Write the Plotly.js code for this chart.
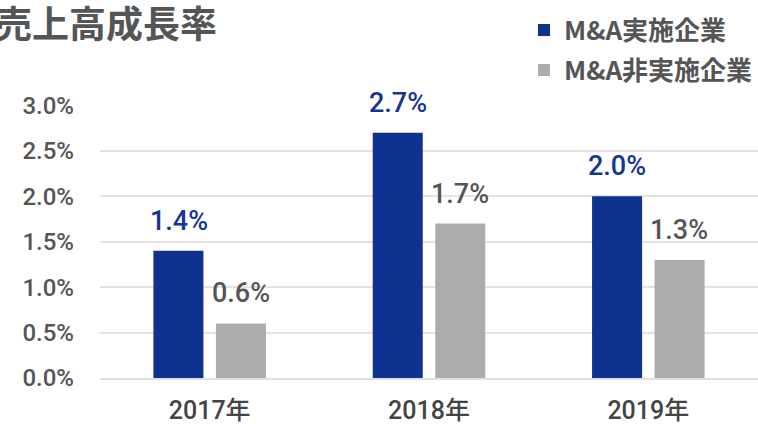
<!DOCTYPE html>
<html>
<head>
<meta charset="utf-8">
<script src="https://cdn.plot.ly/plotly-3.0.1.min.js"></script>
<style>
  html, body { margin: 0; padding: 0; background: #fff; }
  #chart { width: 758px; height: 424px; }
</style>
</head>
<body>
<div id="chart"></div>
<script>
// 売上高成長率 - M&A実施企業 vs 非実施企業
const years = ["2017年", "2018年", "2019年"];
const maDone = [1.4, 2.7, 2.0];
const maNotDone = [0.6, 1.7, 1.3];
const seriesNames = ["M&A実施企業", "M&A非実施企業"];
const yTicks = [0, 0.5, 1.0, 1.5, 2.0, 2.5, 3.0];

const BLUE = "#0f3190";
const GRAY = "#acacac";
const TEXT = "#555555";
const FONT = "Roboto, 'Noto Sans CJK JP', sans-serif";

const traces = [
  {
    x: years, y: maDone, type: "bar", name: seriesNames[0],
    marker: { color: BLUE }, legendgroup: "a", hoverinfo: "skip",
  },
  {
    x: years, y: maNotDone, type: "bar", name: seriesNames[1],
    marker: { color: GRAY }, legendgroup: "b", hoverinfo: "skip",
  },
];

// value labels above bars, shifted to each bar of the group
const labels = [];
years.forEach((yr, i) => {
  labels.push({
    x: yr, y: maDone[i], xref: "x", yref: "y",
    text: maDone[i].toFixed(1) + "%", showarrow: false,
    yanchor: "bottom", xshift: -31, yshift: 12,
    font: { family: FONT, size: 27, color: "#143593", weight: 500 },
  });
  labels.push({
    x: yr, y: maNotDone[i], xref: "x", yref: "y",
    text: maNotDone[i].toFixed(1) + "%", showarrow: false,
    yanchor: "bottom", xshift: 31, yshift: 12,
    font: { family: FONT, size: 27, color: TEXT, weight: 500 },
  });
});

// title sits partly off the left edge, like the source image
labels.push({
  text: "売上高成長率", showarrow: false,
  xref: "paper", yref: "paper", x: -0.163, y: 1.304,
  xanchor: "left", yanchor: "middle",
  font: { family: "'Noto Sans CJK JP', sans-serif", size: 37, color: TEXT, weight: "bold" },
});

const layout = {
  width: 758,
  height: 424,
  margin: { l: 100, r: 0, t: 105, b: 46 },
  paper_bgcolor: "#fff",
  plot_bgcolor: "#fff",
  barmode: "group",
  bargap: 0.43,
  bargroupgap: 0.2,
  showlegend: true,
  legend: {
    x: 1, xanchor: "right", y: 1.36, yanchor: "top",
    traceorder: "grouped", tracegroupgap: 3,
    font: { family: "'Noto Sans CJK JP', sans-serif", size: 26, color: TEXT, weight: "bold" },
  },
  xaxis: {
    type: "category",
    showline: true, linecolor: "#e0e0e0", linewidth: 2,
    ticks: "", showgrid: false, ticklabelstandoff: 9,
    tickfont: { family: FONT, size: 25, color: "#444", weight: 500 },
  },
  yaxis: {
    range: [0, 3.005],
    tickvals: yTicks,
    ticktext: yTicks.map((v) => v.toFixed(1) + "%"),
    showgrid: true, gridcolor: "#e3e3e3", gridwidth: 2,
    zeroline: false, ticks: "", ticklabelstandoff: 25,
    tickfont: { family: FONT, size: 24, color: TEXT, weight: 500 },
  },
  annotations: labels,
};

Plotly.newPlot("chart", traces, layout, { displayModeBar: false, staticPlot: true });
</script>
</body>
</html>
